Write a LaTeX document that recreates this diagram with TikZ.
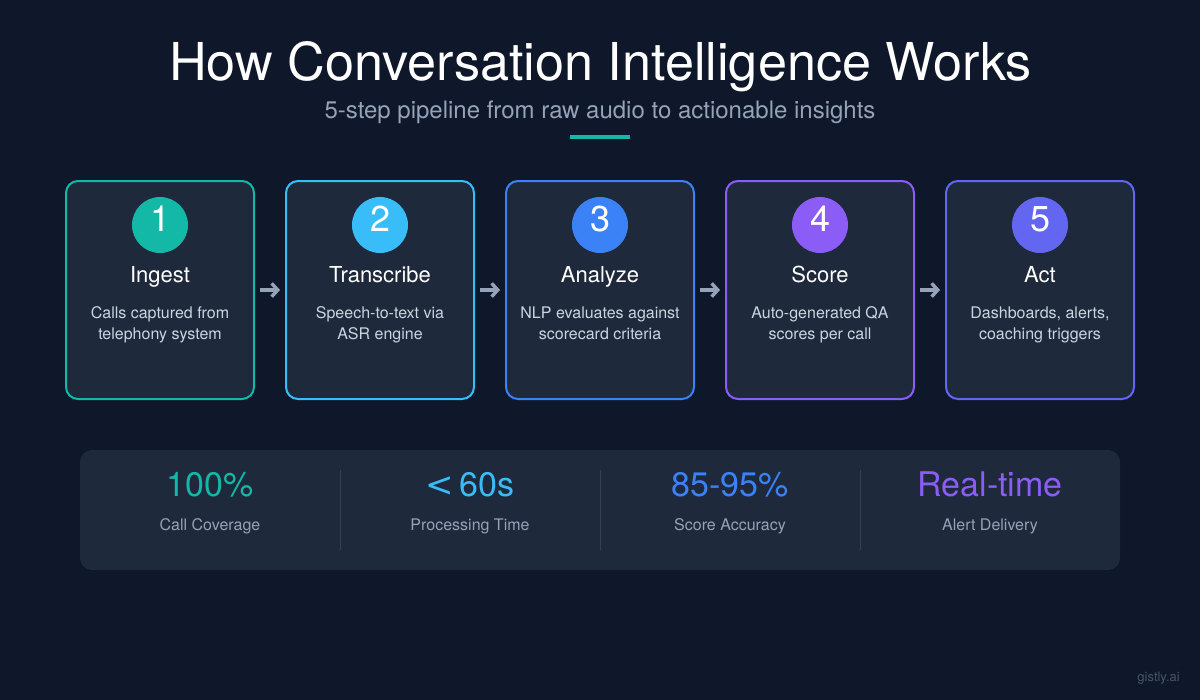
\documentclass[tikz,border=0pt]{standalone}
\usepackage{fontspec}
\setmainfont{TeX Gyre Heros}
\newfontfamily\wideglyph{DejaVu Sans}
\usetikzlibrary{arrows.meta}
\definecolor{bgc}{HTML}{0F172A}
\definecolor{cardc}{HTML}{1E293B}
\definecolor{teal}{HTML}{14B8A6}
\definecolor{sky}{HTML}{38BDF8}
\definecolor{blue}{HTML}{3B82F6}
\definecolor{violet}{HTML}{8B5CF6}
\definecolor{indigo}{HTML}{6366F1}
\definecolor{desc}{HTML}{CBD5E1}
\definecolor{muted}{HTML}{94A3B8}
\definecolor{rule}{HTML}{334155}
\definecolor{mark}{HTML}{475569}
\newcommand{\px}[1]{\fontsize{\dimexpr #1pt*3/4\relax}{\dimexpr #1pt*9/10\relax}\selectfont}
\tikzset{
  x=0.75pt,y=-0.75pt,
  card/.style={draw=#1,fill=cardc,line width=1.5pt,rounded corners=9pt,minimum width=141pt,minimum height=163.5pt,inner sep=0pt},
  badge/.style={circle,fill=#1,minimum size=42pt,inner sep=0pt},
  txt/.style={anchor=base,inner sep=0pt,text=#1},
  flow/.style={draw=muted,line width=2.4pt,-{Straight Barb[length=4.5pt,width=10pt,line width=2.6pt]},shorten >=3.75pt,shorten <=3.75pt},
  sep/.style={draw=rule,line width=0.75pt}
}
\begin{document}
\begin{tikzpicture}
\useasboundingbox (0,0) rectangle (1200,700);
\fill[bgc] (0,0) rectangle (1200,700);
\node[txt=white,font=\px{52.2}] (title) at (600.5,80) {How Conversation Intelligence Works};
\node[txt=muted,font=\px{24}] (sub) at (600,118) {5-step pipeline from raw audio to actionable insights};
\fill[teal] (570,135) rectangle (630,139);

\foreach \n/\cx/\col/\name/\la/\lb in {
 1/160/teal/Ingest/Calls captured from/telephony system,
 2/380/sky/Transcribe/Speech-to-text via/ASR engine,
 3/600/blue/Analyze/NLP evaluates against/scorecard criteria,
 4/820/violet/Score/Auto-generated QA/scores per call,
 5/1040/indigo/Act/{Dashboards, alerts,}/coaching triggers}{
  \node[card=\col] (card\n) at (\cx,290) {};
  \node[badge=\col] (badge\n) at (\cx,225) {};
  \node[txt=white,font=\px{36}] (num\n) at (\cx+0.7,231.5) {\n};
  \node[txt=white,font=\px{22}] (name\n) at (\cx,282) {\name};
  \node[txt=desc,font=\px{16}] (la\n) at (\cx,318) {\la};
  \node[txt=desc,font=\px{16}] (lb\n) at (\cx,339.5) {\lb};
}
\foreach \a/\b in {1/2,2/3,3/4,4/5}
  \draw[flow] (card\a.east) -- (card\b.west);

\node[fill=cardc,rounded corners=9pt,minimum width=780pt,minimum height=90pt,inner sep=0pt] (panel) at (600,510) {};
\foreach \n/\cx/\col/\val/\lab in {
 1/210/teal/100\%/Call Coverage,
 2/470/sky/{{\wideglyph <}\kern-3.5pt\ 60s}/Processing Time,
 3/730/blue/85-95\%/Score Accuracy,
 4/990/violet/Real-time/Alert Delivery}{
  \node[txt=\col,font=\px{34}] (val\n) at (\cx,496.5) {\val};
  \node[txt=muted,font=\px{16}] (lab\n) at (\cx,530.5) {\lab};
}
\foreach \x in {340,600,860}
  \draw[sep] (\x,470) -- (\x,550);
\node[anchor=base east,inner sep=0pt,text=mark,font=\px{13}] (brand) at (1180,681) {gistly.ai};
\end{tikzpicture}
\end{document}
